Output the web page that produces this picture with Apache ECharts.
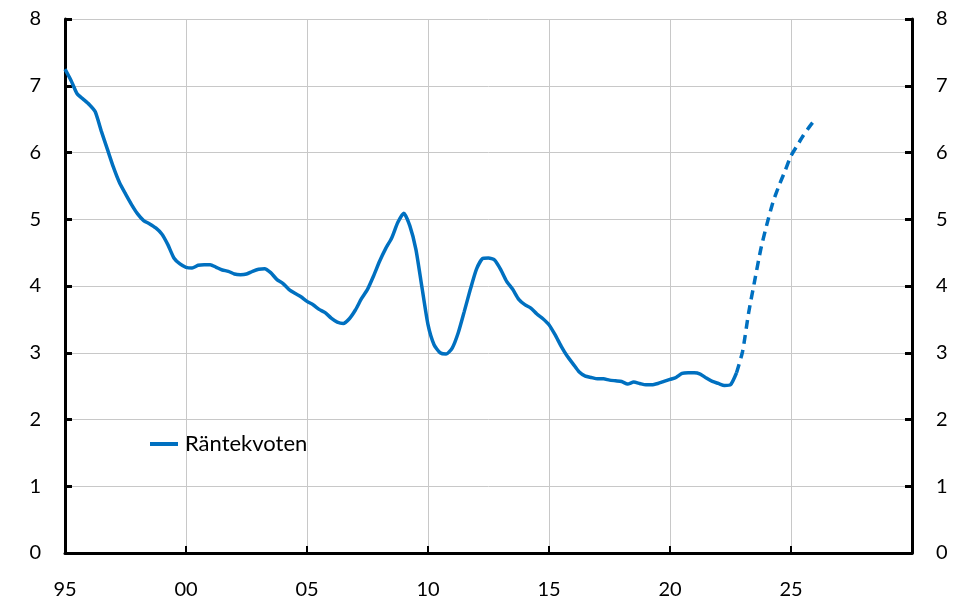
<!DOCTYPE html>
<html>
<head>
<meta charset="utf-8">
<script src="https://cdn.jsdelivr.net/npm/echarts@6/dist/echarts.min.js"></script>
<style>
  html, body { margin: 0; padding: 0; background: #fff; }
  #chart { width: 956px; height: 600px; }
</style>
</head>
<body>
<div id="chart"></div>
<script>
// kvartal, 1995 Q1 = 1995.0
const histStart = 1995;
const histValues = [
  7.25, 7.08, 6.88, 6.80, 6.72, 6.61, 6.32, 6.05,   // 1995-1996
  5.78, 5.55, 5.38, 5.22, 5.08, 4.98, 4.93, 4.87,   // 1997-1998
  4.78, 4.62, 4.42, 4.33, 4.28, 4.27, 4.31, 4.32,   // 1999-2000
  4.32, 4.28, 4.24, 4.22, 4.18, 4.17, 4.18, 4.22,   // 2001-2002
  4.25, 4.26, 4.20, 4.10, 4.04, 3.95, 3.89, 3.84,   // 2003-2004
  3.77, 3.72, 3.65, 3.60, 3.52, 3.46, 3.44, 3.51,   // 2005-2006
  3.64, 3.81, 3.95, 4.15, 4.37, 4.56, 4.72, 4.95,   // 2007-2008
  5.09, 4.90, 4.55, 3.98, 3.42, 3.12, 3.00, 2.98,   // 2009-2010
  3.07, 3.30, 3.62, 3.95, 4.25, 4.41, 4.42, 4.39,   // 2011-2012
  4.25, 4.07, 3.95, 3.80, 3.72, 3.67, 3.58, 3.51,   // 2013-2014
  3.42, 3.27, 3.10, 2.95, 2.83, 2.71, 2.65, 2.63,   // 2015-2016
  2.61, 2.61, 2.59, 2.58, 2.57, 2.53, 2.56, 2.54,   // 2017-2018
  2.52, 2.52, 2.54, 2.57, 2.60, 2.63, 2.69, 2.70,   // 2019-2020
  2.70, 2.68, 2.62, 2.57, 2.54, 2.51, 2.52, 2.70    // 2021-2022
];
// prognos från 2022 Q4
const fcStart = 2022.75;
const fcValues = [2.70, 3.02, 3.60, 4.08, 4.55, 4.92, 5.25, 5.50, 5.72, 5.95, 6.10, 6.25, 6.38, 6.50];

const xLabels = { 1995: '95', 2000: '00', 2005: '05', 2010: '10', 2015: '15', 2020: '20', 2025: '25' };

const histData = histValues.map((v, i) => [histStart + i * 0.25, v]);
const fcData = fcValues.map((v, i) => [fcStart + i * 0.25, v]);

const blue = '#0070C0';
const font = 'Lato, "Open Sans", sans-serif';

const chart = echarts.init(document.getElementById('chart'));
const yAxisBase = {
  type: 'value',
  min: 0, max: 8, interval: 1,
  axisLine: { show: true, lineStyle: { color: '#000', width: 3 } },
  axisTick: { show: true, inside: true, length: 7, lineStyle: { color: '#000', width: 3 } },
  axisLabel: { color: '#000', fontSize: 20, fontFamily: font, margin: 24 },
  splitLine: { show: false }
};
chart.setOption({
  animation: false,
  grid: { left: 65, right: 44, top: 19, bottom: 46 },
  legend: {
    data: ['Räntekvoten'],
    left: 150, top: 433, padding: 0,
    icon: 'rect', itemWidth: 28, itemHeight: 4,
    textStyle: { color: '#000', fontSize: 22, fontFamily: font, padding: [0, 0, 0, 2] }
  },
  xAxis: {
    type: 'value',
    min: 1995, max: 2030, interval: 5,
    axisLine: { show: true, onZero: false, lineStyle: { color: '#000', width: 3 } },
    axisTick: { show: true, inside: true, length: 7, lineStyle: { color: '#000', width: 2 } },
    axisLabel: {
      color: '#000', fontSize: 20, fontFamily: font, margin: 27,
      formatter: v => xLabels[v] || ''
    },
    splitLine: { show: true, lineStyle: { color: '#c8c8c8', width: 1 } }
  },
  yAxis: [
    Object.assign({}, yAxisBase, {
      position: 'left',
      splitLine: { show: true, lineStyle: { color: '#c8c8c8', width: 1 } }
    }),
    Object.assign({}, yAxisBase, { position: 'right' })
  ],
  series: [
    {
      name: 'Räntekvoten',
      type: 'line',
      data: histData,
      showSymbol: false,
      smooth: 0.2,
      lineStyle: { color: blue, width: 3.5 },
      itemStyle: { color: blue },
      z: 3
    },
    {
      name: 'Prognos',
      type: 'line',
      data: fcData,
      showSymbol: false,
      smooth: 0.2,
      lineStyle: { color: blue, width: 3.5, type: [9, 6] },
      itemStyle: { color: blue },
      z: 3
    }
  ]
});
</script>
</body>
</html>
